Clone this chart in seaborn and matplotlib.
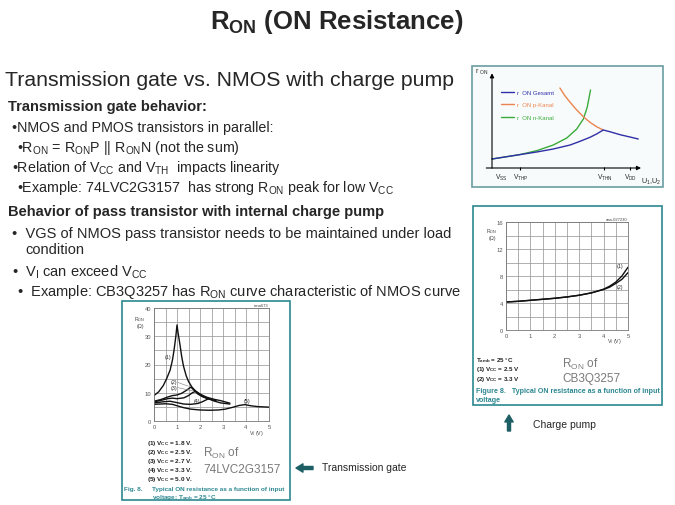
import matplotlib
matplotlib.use("Agg")
import matplotlib.pyplot as plt
from matplotlib.patches import Rectangle
import seaborn as sns
import pandas as pd

# ---- schematic r_ON curves (top right), x: VSS=0 .. VDD=5, arbitrary units
gesamt_x = [0, 0.99, 1.62, 2.22, 2.83, 3.19, 3.55, 3.79, 4.03, 4.27, 4.64, 5.0, 5.3]
gesamt_y = [0.9, 1.33, 1.6, 1.9, 2.3, 2.67, 3.07, 3.4, 3.8, 3.63, 3.33, 3.1, 2.9]
nkanal_x = [0, 0.99, 1.62, 2.22, 2.71, 3.07, 3.31, 3.45, 3.57]
nkanal_y = [0.9, 1.33, 1.73, 2.3, 3.0, 3.9, 4.9, 6.07, 7.8]
pkanal_x = [2.46, 2.64, 2.83, 3.07, 3.31, 3.55, 3.79, 4.03]
pkanal_y = [8.0, 7.23, 6.57, 5.8, 5.13, 4.57, 4.13, 3.8]
sch_ticks = [0, 1.0, 4.07, 5.0]
sch_labels = [r"V$_{\rm SS}$", r"V$_{\rm THP}$", r"V$_{\rm THN}$", r"V$_{\rm DD}$"]

# ---- CB3Q3257 R_ON vs V_I (ohm)
cb_x = [0, 0.5, 1, 1.5, 2, 2.5, 3, 3.5, 4, 4.25, 4.5, 4.75, 5]
cb_vcc25 = [4.15, 4.25, 4.4, 4.55, 4.7, 4.9, 5.15, 5.5, 6.05, 6.5, 7.1, 8.0, 9.3]
cb_vcc33 = [4.15, 4.25, 4.4, 4.55, 4.7, 4.9, 5.15, 5.5, 6.0, 6.35, 6.9, 7.5, 8.5]

# ---- 74LVC2G3157 R_ON vs V_I (ohm)
lvc18_x = [0, 0.2, 0.4, 0.55, 0.7, 0.8, 0.87, 0.95, 1.0, 1.05, 1.13, 1.2, 1.28, 1.4, 1.5, 1.65, 1.8, 2.0, 2.3, 2.6, 2.9, 3.3]
lvc18_y = [9.0, 10.3, 12.5, 15, 18, 21.5, 25, 30, 34, 31, 27, 23, 19.5, 16, 14, 12, 10.7, 9.5, 8.4, 7.7, 7.2, 6.3]
lvc25_x = [0, 0.3, 0.6, 0.8, 1.0, 1.2, 1.4, 1.6, 1.75, 1.9, 2.1, 2.3, 2.5]
lvc25_y = [7.0, 7.6, 8.5, 9.0, 9.2, 9.8, 10.8, 12.0, 10.8, 9.6, 8.6, 8.0, 7.6]
lvc27_x = [0, 0.3, 0.6, 0.8, 1.0, 1.3, 1.5, 1.65, 1.8, 2.0, 2.2, 2.45, 2.7]
lvc27_y = [6.8, 7.3, 7.9, 8.1, 7.9, 8.2, 9.0, 9.9, 10.5, 9.5, 8.4, 7.6, 7.2]
lvc33_x = [0, 0.4, 0.7, 1.0, 1.3, 1.6, 1.9, 2.1, 2.3, 2.4, 2.6, 2.9, 3.3]
lvc33_y = [6.4, 6.8, 7.0, 6.5, 6.0, 5.9, 6.2, 6.8, 7.6, 7.9, 7.1, 6.4, 6.0]
lvc50_x = [0, 0.5, 0.8, 1.0, 1.3, 1.6, 2.0, 2.4, 2.8, 3.1, 3.4, 3.7, 3.95, 4.2, 4.5, 5.0]
lvc50_y = [5.9, 6.1, 5.9, 5.4, 4.7, 4.2, 3.9, 3.8, 3.9, 4.2, 4.8, 5.5, 5.8, 5.4, 5.1, 4.9]

W, H = 675, 506
TEAL = "#2c8790"
ARROW = "#1e5f66"
BUL = "\u2022"

sns.set_theme(style="white")
plt.rcParams["font.family"] = ["Liberation Sans", "DejaVu Sans"]
plt.rcParams["mathtext.fontset"] = "custom"
plt.rcParams["mathtext.rm"] = "Liberation Sans"
plt.rcParams["mathtext.bf"] = "Liberation Sans:bold"
plt.rcParams["mathtext.it"] = "Liberation Sans:italic"

fig = plt.figure(figsize=(6.75, 5.06), dpi=100)

# full-figure overlay in pixel units for slide text and frames
ov = fig.add_axes([0, 0, 1, 1])
ov.set_xlim(0, W)
ov.set_ylim(H, 0)
ov.axis("off")


def t(x, y, s, size=9, **kw):
    kw.setdefault("va", "center")
    ov.text(x, y, s, fontsize=size, **kw)


def px_axes(x0, y0, x1, y1):
    return fig.add_axes([x0 / W, 1 - y1 / H, (x1 - x0) / W, (y1 - y0) / H])


# ---- slide text
t(337, 22, r"$\mathbf{R_{ON}}$ (ON Resistance)", 18.5, ha="center", fontweight="bold")
t(5, 80, "Transmission gate vs. NMOS with charge pump", 15.3)
t(8, 107, "Transmission gate behavior:", 10.5, fontweight="bold")
t(12, 128, BUL + "NMOS and PMOS transistors in parallel:", 10.3)
t(17, 148, BUL + r"R$_{\rm ON}$ = R$_{\rm ON}$P || R$_{\rm ON}$N (not the sum)", 10.3)
t(12, 168, BUL + r"Relation of V$_{\rm CC}$ and V$_{\rm TH}$  impacts linearity", 10.3)
t(17, 188, BUL + r"Example: 74LVC2G3157  has strong R$_{\rm ON}$ peak for low V$_{\rm CC}$", 10.3)
t(8, 212, "Behavior of pass transistor with internal charge pump", 10.5, fontweight="bold")
t(12, 234, BUL + "  VGS of NMOS pass transistor needs to be maintained under load", 10.5)
t(25, 250, "condition", 10.5)
t(12, 272, BUL + r"  V$_{\rm I}$ can exceed V$_{\rm CC}$", 10.5)
t(17, 292, BUL + r"  Example: CB3Q3257 has R$_{\rm ON}$ curve characteristic of NMOS curve", 10.5)

# ---- arrows with captions
ov.annotate("", xy=(296, 469), xytext=(313, 469),
            arrowprops=dict(facecolor=ARROW, edgecolor=ARROW, width=2.2, headwidth=6, headlength=5, shrink=0))
t(322, 468, "Transmission gate", 7.5)
ov.annotate("", xy=(509, 416), xytext=(509, 432),
            arrowprops=dict(facecolor=ARROW, edgecolor=ARROW, width=2.2, headwidth=6, headlength=5, shrink=0))
t(533, 425, "Charge pump", 7.5)

# ---- frames
ov.add_patch(Rectangle((472, 67), 191, 121, fill=True, facecolor="#f8fbfb", edgecolor="#6a9ea2", lw=1.2))
ov.add_patch(Rectangle((473, 207), 189, 199, fill=False, edgecolor=TEAL, lw=1.2))
ov.add_patch(Rectangle((122, 302), 168, 199, fill=False, edgecolor=TEAL, lw=1.2))

# ---- top right: schematic r_ON curves
ax = px_axes(472, 67, 663, 188)
ax.set_xlim(-0.725, 6.196)
ax.set_ylim(-1.9, 10.2)
ax.axis("off")
sns.lineplot(x=nkanal_x, y=nkanal_y, color="#3aab3a", lw=1.0, sort=False, estimator=None, ax=ax, label="r  ON n-Kanal")
sns.lineplot(x=pkanal_x, y=pkanal_y, color="#ea8550", lw=1.0, sort=False, estimator=None, ax=ax, label="r  ON p-Kanal")
sns.lineplot(x=gesamt_x, y=gesamt_y, color="#2f2fa8", lw=1.0, sort=False, estimator=None, ax=ax, label="r  ON Gesamt")
h, l = ax.get_legend_handles_labels()
ax.legend([h[2], h[1], h[0]], [l[2], l[1], l[0]], loc="upper left", bbox_to_anchor=(0.22, 8.15),
          bbox_transform=ax.transData, frameon=False, fontsize=4.3, handlelength=2.2,
          handletextpad=0.5, labelspacing=1.25, borderpad=0, labelcolor="linecolor")
ax.annotate("", xy=(0, 9.75), xytext=(0, -0.3),
            arrowprops=dict(arrowstyle="-|>", color="black", lw=0.8, mutation_scale=6))
ax.annotate("", xy=(5.5, 0), xytext=(-0.31, 0),
            arrowprops=dict(arrowstyle="-|>", color="black", lw=0.8, mutation_scale=6))
ax.vlines(sch_ticks[1:], -0.15, 0.15, color="black", lw=0.8)
for i, (xv, lab) in enumerate(zip(sch_ticks, sch_labels)):
    ax.text(xv + (0.34 if i == 0 else 0.03), -0.93, lab, fontsize=4.8, ha="center", va="center")
ax.text(5.76, -1.3, r"U$_{\rm 1}$,U$_{\rm 2}$", fontsize=5.2, ha="center", va="center")
ax.text(-0.62, 9.7, r"r $_{\rm ON}$", fontsize=5, ha="left", va="center")


def datasheet_axes(a, xmax, ymax, ystep, ylab_step):
    a.set_xlim(0, xmax)
    a.set_ylim(0, ymax)
    xt = [i * 0.5 for i in range(int(xmax * 2) + 1)]
    a.set_xticks(xt)
    a.set_xticklabels([str(int(v)) if v == int(v) else "" for v in xt])
    yt = list(range(0, ymax + 1, ystep))
    a.set_yticks(yt)
    a.set_yticklabels([str(v) if v % ylab_step == 0 else "" for v in yt])
    a.grid(True, color="#9a9a9a", lw=0.55)
    a.tick_params(length=0, labelsize=4.2, pad=2, colors="#555555")
    for s in a.spines.values():
        s.set_color("#777777")
        s.set_linewidth(0.6)
    a.set_xlabel("")
    a.set_ylabel("")


# ---- middle right: CB3Q3257
ax2 = px_axes(506, 223, 628, 331)
cb = pd.DataFrame({"V": cb_x * 2, "R": cb_vcc25 + cb_vcc33,
                   "curve": ["(1)"] * len(cb_x) + ["(2)"] * len(cb_x)})
sns.lineplot(data=cb, x="V", y="R", hue="curve", palette=["#111111", "#111111"],
             lw=1.0, legend=False, estimator=None, ax=ax2)
datasheet_axes(ax2, 5, 16, 2, 4)
ax2.text(4.67, 9.5, "(1)", fontsize=3.8, ha="center", va="center")
ax2.text(4.67, 6.4, "(2)", fontsize=3.8, ha="center", va="center")
t(492, 234, "R$_{\\rm ON}$\n(\u03a9)", 3.8, ha="center", color="#444444", linespacing=1.0)
t(614, 341, r"V$_{\rm I}$ (V)", 3.8, ha="center", color="#444444")
t(627, 220, "aaa-027230", 3, ha="right", color="#444444")
t(476, 361, "$\\mathbf{T_{amb}}$ = 25 \u00b0C", 4.5, fontweight="bold", color="#222222")
t(476, 370, r"(1) $\mathbf{V_{CC}}$ = 2.5 V", 4.5, fontweight="bold", color="#222222")
t(476, 379, r"(2) $\mathbf{V_{CC}}$ = 3.3 V", 4.5, fontweight="bold", color="#222222")
t(562, 364, r"R$_{\rm ON}$ of", 8.5, color="#7a7a7a")
t(562, 379, "CB3Q3257", 8.5, color="#7a7a7a")
t(476, 392, "Figure 8.   Typical ON resistance as a function of input", 5.1, fontweight="bold", color=TEAL)
t(476, 401, "voltage", 5.1, fontweight="bold", color=TEAL)

# ---- bottom left: 74LVC2G3157
ax3 = px_axes(154, 309, 269, 422)
lvc = pd.DataFrame({
    "V": lvc18_x + lvc25_x + lvc27_x + lvc33_x + lvc50_x,
    "R": lvc18_y + lvc25_y + lvc27_y + lvc33_y + lvc50_y,
    "curve": ["(1)"] * len(lvc18_x) + ["(2)"] * len(lvc25_x) + ["(3)"] * len(lvc27_x)
             + ["(4)"] * len(lvc33_x) + ["(5)"] * len(lvc50_x),
})
sns.lineplot(data=lvc, x="V", y="R", hue="curve", palette=["#111111"] * 5,
             lw=1.0, legend=False, estimator=None, sort=False, ax=ax3)
datasheet_axes(ax3, 5, 40, 5, 10)
ax3.text(0.62, 22.8, "(1)", fontsize=3.8, ha="center", va="center")
ax3.text(0.88, 13.9, "(2)", fontsize=3.8, ha="center", va="center")
ax3.text(0.88, 12.0, "(3)", fontsize=3.8, ha="center", va="center")
ax3.text(1.86, 7.3, "(4)", fontsize=3.8, ha="center", va="center")
ax3.text(4.03, 7.2, "(5)", fontsize=3.8, ha="center", va="center")
ax3.plot([1.05, 1.5], [13.6, 12.3], color="#777777", lw=0.4)
ax3.plot([1.05, 1.7], [11.8, 10.6], color="#777777", lw=0.4)
t(140, 322, "R$_{\\rm ON}$\n(\u03a9)", 3.8, ha="center", color="#444444", linespacing=1.0)
t(256, 434, r"V$_{\rm I}$ (V)", 3.8, ha="center", color="#444444")
t(268, 306, "mna673", 3, ha="right", color="#444444")
for i, s in enumerate(["1.8", "2.5", "2.7", "3.3", "5.0"]):
    t(147, 444 + i * 9, r"(%d) $\mathbf{V_{CC}}$ = %s V." % (i + 1, s), 4.6, fontweight="bold", color="#222222")
t(203, 453, r"R$_{\rm ON}$ of", 8.5, color="#7a7a7a")
t(203, 470, "74LVC2G3157", 8.5, color="#7a7a7a")
t(124, 490, "Fig. 8.", 4.6, fontweight="bold", color=TEAL)
t(152, 490, "Typical ON resistance as a function of input", 4.6, fontweight="bold", color=TEAL)
t(152, 497.5, "voltage; $\\mathbf{T_{amb}}$ = 25 \u00b0C", 4.6, fontweight="bold", color=TEAL)

fig.savefig("out.png", dpi=100, facecolor="white")
